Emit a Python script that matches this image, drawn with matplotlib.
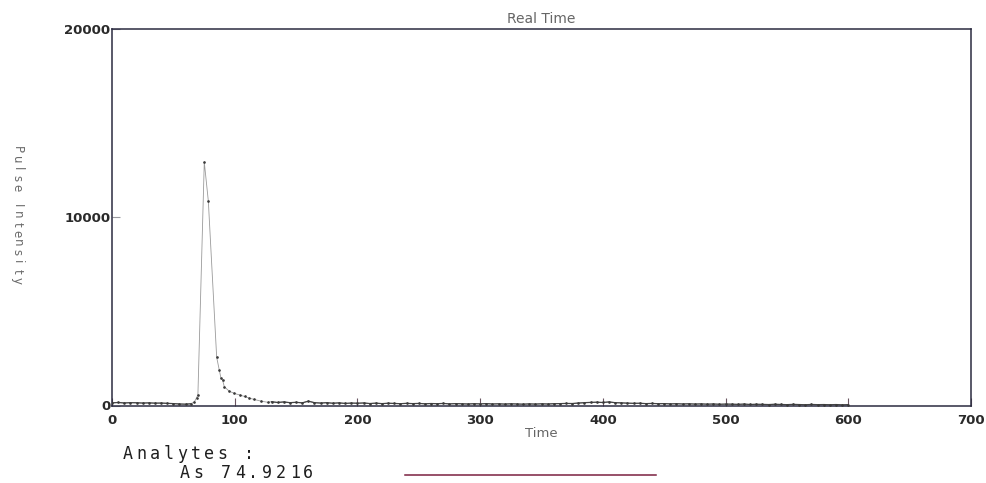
import matplotlib
matplotlib.use("Agg")
import matplotlib.pyplot as plt

# Time-resolved signal for As 74.9216 (pulse intensity vs. time in s)
# Pre-peak baseline and onset
baseline_time = [0, 5, 10, 15, 20, 25, 30, 35, 40, 45, 50, 55, 60, 64, 67, 69, 70]
baseline_counts = [140, 160, 135, 150, 145, 130, 140, 125, 130, 115, 100, 80,
                   70, 90, 180, 420, 560]

# Main peak and its decay
peak_time = [75.2, 78.5, 85.3, 87.4, 88.8, 90.1, 91.5, 95.5, 99.8, 104, 108,
             112, 116, 121.5, 127]
peak_counts = [12930, 10860, 2560, 1890, 1450, 1360, 1000, 760, 640, 560, 480,
               390, 320, 230, 170]

# Tail, sampled every 5 s from 130 s to 600 s
tail_time = list(range(130, 605, 5))
tail_counts = [200, 160, 190, 150, 170, 140, 230, 150, 130, 150,
               120, 140, 110, 130, 120, 135, 105, 125, 100, 120,
               110, 95, 115, 100, 110, 90, 105, 95, 110, 85,
               100, 90, 80, 95, 85, 100, 80, 90, 75, 90,
               80, 70, 85, 75, 90, 80, 95, 100, 110, 105,
               130, 150, 165, 175, 160, 190, 150, 140, 125, 115,
               120, 100, 110, 95, 100, 85, 95, 80, 90, 75,
               85, 70, 80, 65, 75, 70, 60, 75, 55, 65,
               60, 50, 65, 55, 45, 60, 50, 40, 55, 45,
               50, 40, 50, 35, 45]

x_ticks = [0, 100, 200, 300, 400, 500, 600, 700]
y_ticks = [0, 10000, 20000]

time_s = baseline_time + peak_time + tail_time
pulse_intensity = baseline_counts + peak_counts + tail_counts

fig = plt.figure(figsize=(9.86, 4.83), dpi=100)
ax = fig.add_axes([112 / 986, 1 - 405.5 / 483, (971 - 112) / 986, (405.5 - 29) / 483])

# faint connecting trace with the sampled points on top
ax.plot(time_s, pulse_intensity, color="#9a9a9a", lw=0.6, zorder=2)
ax.plot(time_s, pulse_intensity, linestyle="none", marker=".", ms=1.8,
        mec="#3a3a3a", mfc="#3a3a3a", zorder=3)
# darker trace along the flat baseline stretches
ax.plot(baseline_time[:14], baseline_counts[:14], color="#444444", lw=0.9, zorder=2)
ax.plot(tail_time, tail_counts, color="#444444", lw=0.9, zorder=2)

ax.set_xlim(0, 700)
ax.set_ylim(0, 20000)
ax.set_xticks(x_ticks)
ax.set_yticks(y_ticks)
ax.set_xticklabels([str(v) for v in x_ticks])
ax.set_yticklabels([str(v) for v in y_ticks])
ax.tick_params(axis="both", direction="in", length=6, width=0.8, color="#6a5560",
               labelsize=9.5, labelcolor="#2a2a2a", pad=6)
ax.tick_params(axis="y", pad=1, color="#9a9aa0")
for lab in ax.get_xticklabels() + ax.get_yticklabels():
    lab.set_fontweight("bold")

for side, sp in ax.spines.items():
    sp.set_color("#2b2b40")
    sp.set_linewidth(1.1)

ax.set_title("Real Time", fontsize=10, color="#666666", pad=4)
ax.set_xlabel("Time", fontsize=9.5, color="#666666", labelpad=0)

# Stacked, rotated y-axis label
ylabel = "Pulse Intensity"
for i, ch in enumerate(ylabel):
    fig.text(17 / 986, 1 - (150 + i * 9.3) / 483, ch, rotation=270,
             ha="center", va="center", fontsize=8.5, color="#6a6a6a",
             family="DejaVu Sans")

# Analyte legend block, drawn in a spaced monospace style
def spaced_text(x_px, y_px, text, step):
    for i, ch in enumerate(text):
        fig.text((x_px + i * step) / 986, 1 - y_px / 483, ch, ha="left",
                 va="baseline", fontsize=12, color="#1e1e1e",
                 family="DejaVu Sans Mono")

spaced_text(123, 459, "Analytes :", 13.5)
spaced_text(180, 478, "As 74.9216", 13.7)

fig.add_artist(plt.Line2D([405 / 986, 656 / 986], [1 - 475 / 483, 1 - 475 / 483],
                          color="#7a2040", lw=1.1))

fig.savefig("out.png", dpi=100, facecolor="white")
